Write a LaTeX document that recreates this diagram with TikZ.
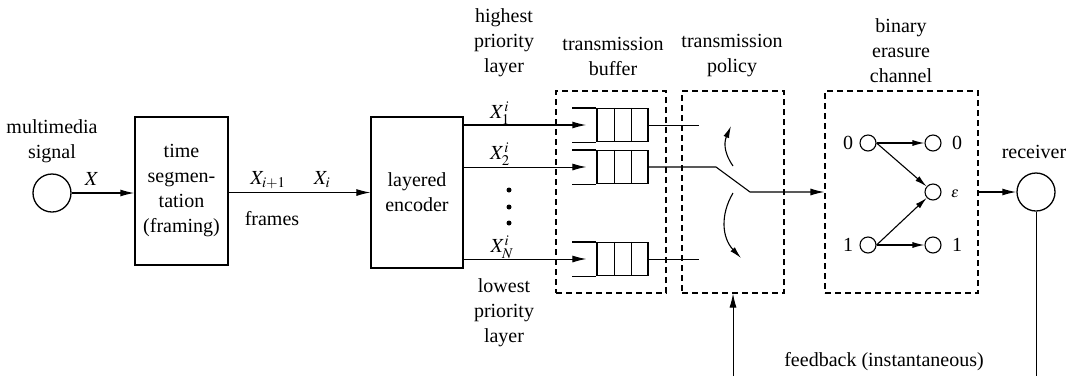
\documentclass[tikz,border=0pt]{standalone}
\usepackage{mathptmx}
\usepackage{fontspec}
\setmainfont{Liberation Serif}
\usetikzlibrary{arrows.meta}
\begin{document}
\begin{tikzpicture}[x=1pt,y=-1pt, font=\fontsize{20}{25}\selectfont, line width=1.3pt,
  box/.style={draw, rectangle, inner sep=0pt},
  dbox/.style={draw, dash pattern=on 6pt off 4pt, line width=1.1pt, inner sep=0pt},
  arr/.style={-{Latex[length=14pt,width=7pt]}},
  sarr/.style={-{Latex[length=12pt,width=6pt]}, line width=1.1pt},
  thinl/.style={line width=0.9pt},
  lbl/.style={align=center, inner sep=0pt},
  sc/.style={draw, circle, minimum size=16pt, inner sep=0pt, line width=1.1pt},
  dotn/.style={fill, circle, minimum size=5pt, inner sep=0pt}
]
\useasboundingbox (0,0) rectangle (1071,376);

% source
\node[draw, circle, minimum size=38pt, inner sep=0pt] (sig) at (52,193) {};
\node[lbl] (siglbl) at (52,141) {multimedia\\signal};
\node[box, minimum width=93pt, minimum height=148pt, align=center] (seg) at (181.5,191) {time\\segmen-\\tation\\(framing)};
\draw[arr] (sig.east) -- (sig.east -| seg.west);
\node[lbl] (xl) at (92,179) {$X$};

% encoder
\node[box, minimum width=92pt, minimum height=151pt, align=center] (enc) at (417,192.5) {layered\\encoder};
\draw[arr, line width=1pt] (seg.east |- enc) -- (enc.west);
\node[lbl] (xi1) at (268,180) {$X_{i+1}$};
\node[lbl] (xi) at (322,180) {$X_{i}$};
\node[lbl] (frames) at (272,219) {frames};

% labels
\node[lbl] (hpl) at (504,43) {highest\\priority\\layer};
\node[lbl] (lpl) at (504,313) {lowest\\priority\\layer};
\node[lbl] (tbl) at (613,56) {transmission\\buffer};
\node[lbl] (tpl) at (732,56) {transmission\\policy};
\node[lbl] (bcl) at (901,51) {binary\\erasure\\channel};
\node[lbl] (rxl) at (1034,152) {receiver};
\node[lbl] (fbl) at (884,362) {feedback (instantaneous)};

% dashed boxes
\node[dbox, minimum width=110pt, minimum height=202pt] (buf) at (611,192) {};
\node[dbox, minimum width=102pt, minimum height=202pt] (pol) at (733,192) {};
\node[dbox, minimum width=153pt, minimum height=202pt] (bec) at (901.5,192) {};

% queues
\foreach \n/\yy/\lw in {1/125/1.3pt, 2/167/1pt, N/259/1pt}{
  \node[box, minimum width=51pt, minimum height=33pt] (q\n) at (622.5,\yy) {};
  \draw ([xshift=-24pt]q\n.north west) -- (q\n.north west);
  \draw ([xshift=-24pt]q\n.south west) -- (q\n.south west);
  \draw ([xshift=18pt]q\n.north west) -- ([xshift=18pt]q\n.south west);
  \draw ([xshift=35pt]q\n.north west) -- ([xshift=35pt]q\n.south west);
  \draw[arr, line width=\lw] (enc.east |- q\n) -- ([xshift=-10pt]q\n.west);
}
\node[lbl] (x1) at (500,113) {$X_1^i$};
\node[lbl] (x2) at (500,154) {$X_2^i$};
\node[lbl] (xN) at (502,247) {$X_N^i$};
\node[dotn] (d1) at (509,190) {};
\node[dotn] (d2) at (509,207) {};
\node[dotn] (d3) at (509,223) {};

% policy switch
\coordinate (o1) at (699,125);
\coordinate (oN) at (699,259);
\coordinate (s1) at (716,167);
\coordinate (s2) at (750,192);
\draw[thinl] (q1.east) -- (o1);
\draw[thinl] (qN.east) -- (oN);
\draw[arr, line width=1.1pt] (q2.east) -- (s1) -- (s2) -- (bec.west);
\draw[sarr] (733,166) .. controls (722,150) and (725,140) .. (731,126);
\draw[sarr] (733,193) .. controls (720,215) and (722,238) .. (741,258);

% BEC
\node[sc] (b0) at (868,143) {};
\node[sc] (c0) at (933,143) {};
\node[sc] (ce) at (933,192) {};
\node[sc] (b1) at (868,245) {};
\node[sc] (c1) at (933,245) {};
\node[lbl] (l0) at (848,143) {0};
\node[lbl] (r0) at (957,143) {0};
\node[lbl, font=\fontsize{15}{18}\selectfont] (le) at (955,194) {$\varepsilon$};
\node[lbl] (l1) at (848,245) {1};
\node[lbl] (r1) at (957,245) {1};
\draw[sarr] (b0.east) -- (c0.west);
\draw[sarr] (b0.east) -- (ce);
\draw[sarr] (b1.east) -- (ce);
\draw[sarr] (b1.east) -- (c1.west);

% receiver
\node[draw, circle, minimum size=38pt, inner sep=0pt] (rx) at (1036,192) {};
\draw[arr] (bec.east) -- (rx.west);

% feedback
\coordinate (fb1) at (1036,376);
\coordinate (fb2) at (733,376);
\draw[thinl] (rx.south) -- (fb1);
\draw[arr, thinl] (fb2) -- (pol.south);
\end{tikzpicture}
\end{document}
